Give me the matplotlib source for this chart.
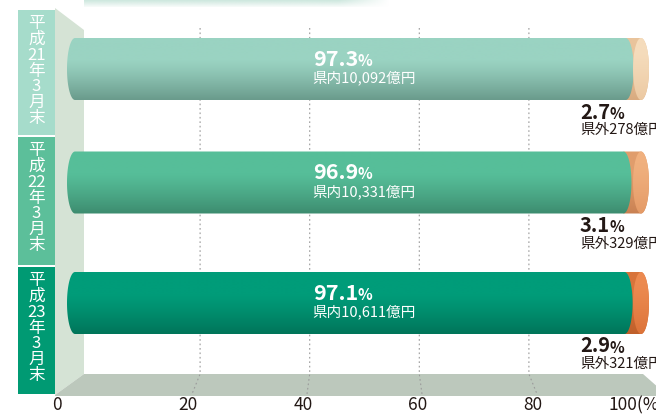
import re
import numpy as np
import matplotlib
matplotlib.use("Agg")
import matplotlib.pyplot as plt
from matplotlib.patches import Polygon, Rectangle
from matplotlib.colors import to_rgb

plt.rcParams['font.family'] = ['Noto Sans CJK JP', 'DejaVu Sans']

# data
periods = ["平成21年3月末", "平成22年3月末", "平成23年3月末"]
inside_pct = [97.3, 96.9, 97.1]
inside_oku = ["10,092", "10,331", "10,611"]
outside_pct = [2.7, 3.1, 2.9]
outside_oku = [278, 329, 321]
ticks = [0, 20, 40, 60, 80, 100]

# colours
body_top = ["#9ad3c2", "#56be99", "#009c79"]
body_bot = ["#6a9b8c", "#3d8c6f", "#00755a"]
side_top = ["#e9c49c", "#e09d6c", "#d8743b"]
side_bot = ["#d9ab80", "#c98152", "#bf5f2a"]
face_top = ["#f5dcbc", "#f0b07e", "#ec8a50"]
face_bot = ["#ecc9a2", "#e49a66", "#dc7339"]
box_col = ["#a6dccb", "#5cbf9a", "#009a73"]
ink = "#231815"

W, H = 656, 417
fig = plt.figure(figsize=(W / 100, H / 100), dpi=100)

# background axes in pixel units (wall, floor, grid, labels)
ax = fig.add_axes([0, 0, 1, 1])
ax.axis('off')

# bar axes: percent across, pixel rows down
x0_px, x100_px = 75, 641
sx = (x100_px - x0_px) / 100.0
bx = fig.add_axes([0, 0, 1, 1])
bx.axis('off')

bar_y = [69, 182.5, 303]
ry = 31
rx = 8 / sx

box_top = [10, 137, 267]
box_bot = [136, 266, 395]


def gradient(c1, c2, n=64, start=0.35):
    t = np.linspace(0, 1, n)
    f = np.clip((t - start) / (1 - start), 0, 1) ** 1.2
    a, b = np.array(to_rgb(c1)), np.array(to_rgb(c2))
    return (a[None, :] * (1 - f[:, None]) + b[None, :] * f[:, None])[:, None, :]


def half_ellipse(cx, cy, t0, t1, n=40):
    t = np.radians(np.linspace(t0, t1, n))
    return np.column_stack([cx + rx * np.cos(t), cy + ry * np.sin(t)])


def grad_fill(verts, c1, c2, cy, z, start=0.35):
    poly = Polygon(verts, closed=True, fc='none', ec='none')
    bx.add_patch(poly)
    xs = verts[:, 0]
    im = bx.imshow(gradient(c1, c2, start=start), aspect='auto', origin='upper',
                   extent=(xs.min(), xs.max(), cy + ry, cy - ry), zorder=z,
                   interpolation='bilinear')
    im.set_clip_path(poly)


def value_pct(x, y, val, color, size, psize):
    t = bx.text(x, y, f"{val}", color=color, fontsize=size, fontweight='bold',
                ha='left', va='center', zorder=6)
    bx.annotate("%", xy=(1, 0), xycoords=t, xytext=(-0.5, 0.5), textcoords='offset points',
                color=color, fontsize=psize, fontweight='bold', ha='left', va='bottom', zorder=6)


# top header shadow
band = np.ones((8, 200, 4))
band[:, :, :3] = to_rgb("#cfe8df")
band[:, :, 3] = np.linspace(1, 0.2, 8)[:, None] * np.clip(np.linspace(6, 0, 200), 0, 1)[None, :]
ax.imshow(band, extent=(84, 390, 7, 0), aspect='auto', zorder=0)

# left wall and floor
ax.add_patch(Polygon([(55, 8), (84, 30), (84, 374), (55, 395)], fc="#d5e3d5", ec='none', zorder=1))
ax.add_patch(Polygon([(55, 395), (84, 374), (643, 374), (668, 396), (55, 396)],
                     fc="#bcc8bc", ec='none', zorder=1))

# dotted grid: back wall down to the floor front edge
for v in ticks[1:-1]:
    xb = 90.5 + 5.48 * v
    xf = 77 + 5.75 * v
    ax.plot([xb, xb, xf], [28, 374, 394], color="#9a9a9a", lw=0.8,
            ls=(0, (1.5, 2.5)), zorder=2)

# tick labels
for v in ticks:
    if v == 0:
        ax.text(57, 405, "0", ha='center', va='center', fontsize=12.5, color=ink)
    elif v == 100:
        ax.text(608, 405, "100(%)", ha='left', va='center', fontsize=12.5, color=ink)
    else:
        ax.text(77 + 5.75 * v - 4, 405, str(v), ha='center', va='center',
                fontsize=12.5, color=ink)

# period boxes with stacked vertical text
for i, p in enumerate(periods):
    ax.add_patch(Rectangle((18, box_top[i]), 37, box_bot[i] - box_top[i] - 1,
                           fc=box_col[i], ec='none', zorder=3))
    stacked = "\n".join(re.findall(r'\d+|\D', p))
    ax.text(36.5, box_top[i] + 61, stacked, ha='center', va='center',
            multialignment='center', linespacing=0.9,
            fontsize=12, color='white', zorder=4)

# cylinders
for i in range(len(periods)):
    yc = bar_y[i]
    x1 = inside_pct[i]
    x2 = inside_pct[i] + outside_pct[i]

    side = np.vstack([half_ellipse(x2, yc, -90, 90), [[x1, yc + ry], [x1, yc - ry]]])
    grad_fill(side, side_top[i], side_bot[i], yc, 2)

    body = np.vstack([half_ellipse(0, yc, 90, 270), half_ellipse(x1, yc, -90, 90)])
    grad_fill(body, body_top[i], body_bot[i], yc, 3)

    face = half_ellipse(x2, yc, 0, 360, n=80)
    grad_fill(face, face_top[i], face_bot[i], yc, 4, start=0.2)

    value_pct(42, yc - 10, inside_pct[i], 'white', 15.5, 11)
    bx.text(42, yc + 9, f"県内{inside_oku[i]}億円", color='white', fontsize=10.5,
            ha='left', va='center', zorder=6)

    value_pct(89.2, yc + ry + 12, outside_pct[i], ink, 14.5, 11)
    bx.text(89.2, yc + ry + 30, f"県外{outside_oku[i]}億円", color=ink, fontsize=10.5,
            ha='left', va='center', zorder=6)

ax.set_xlim(0, W)
ax.set_ylim(H, 0)
bx.set_xlim(-x0_px / sx, (W - x0_px) / sx)
bx.set_ylim(H, 0)

fig.savefig("out.png", dpi=100)
